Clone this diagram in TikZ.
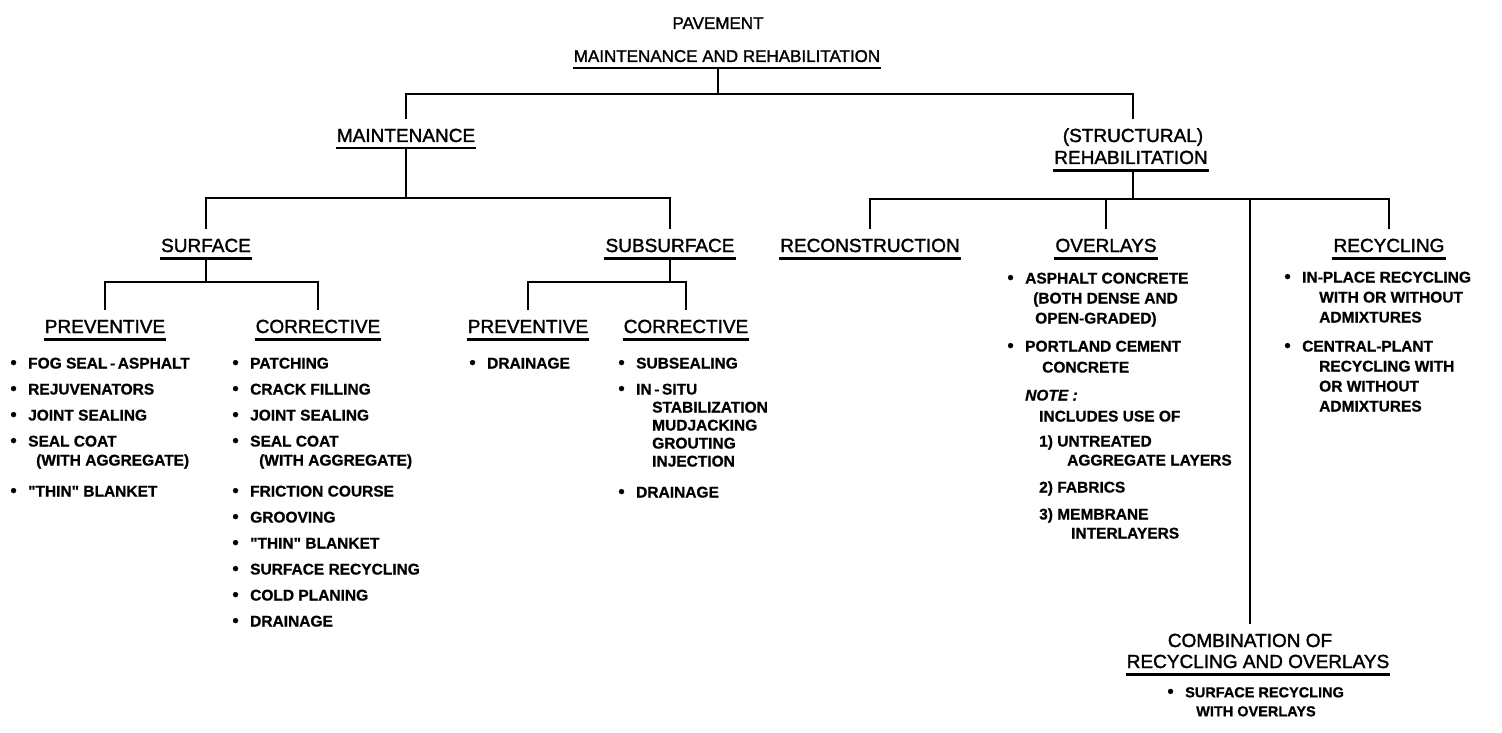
\documentclass[tikz,border=0pt]{standalone}
\usepackage{fontspec}
\setmainfont{Liberation Sans}
\newfontfamily\hdrfont{Liberation Sans}[FakeBold=1.6]
\newfontfamily\itmfont{Liberation Sans Bold}[FakeBold=0.8]
\newfontfamily\itmitfont{Liberation Sans Bold Italic}[FakeBold=0.8]
\newcommand{\bul}{\llap{{\fontsize{18}{19}\selectfont\textbullet}\hspace{11.5pt}}}
\newcommand{\ind}[1]{\hspace*{#1pt}}
\newcommand{\qd}{\textquotedbl}
\begin{document}
\begin{tikzpicture}[x=1pt,y=-1pt,
  hdr/.style={anchor=base, inner xsep=1pt, inner ysep=0pt, text height=24pt, text depth=6pt,
              font=\hdrfont\fontsize{19}{22}\selectfont},
  ttl/.style={hdr, font=\hdrfont\fontsize{17}{20}\selectfont},
  conn/.style={line width=2.8pt, line join=miter, line cap=rect},
  uline/.style={line width=2.6pt},
  lst/.style={anchor=north west, inner sep=0pt, align=left,
              font=\itmfont\fontsize{15.5}{19}\selectfont},
  lst20/.style={lst, font=\itmfont\fontsize{15.5}{20}\selectfont}]
\useasboundingbox (0,0) rectangle (1502,733);

% ---------- headings ----------
\node[ttl] (pav) at (718,29) {PAVEMENT};
\node[ttl] (mr) at (727,62) {MAINTENANCE AND REHABILITATION};
\node[hdr] (maint) at (406,142) {MAINTENANCE};
\node[hdr] (struct) at (1133,142) {(STRUCTURAL)};
\node[hdr] (rehab) at (1131,164) {REHABILITATION};
\node[hdr] (surf) at (206,252) {SURFACE};
\node[hdr] (subsurf) at (670,252) {SUBSURFACE};
\node[hdr] (recon) at (870,252) {RECONSTRUCTION};
\node[hdr] (overl) at (1106,252) {OVERLAYS};
\node[hdr] (recyc) at (1389,252) {RECYCLING};
\node[hdr] (prevS) at (105,333) {PREVENTIVE};
\node[hdr] (corrS) at (318,333) {CORRECTIVE};
\node[hdr] (prevSS) at (528,333) {PREVENTIVE};
\node[hdr] (corrSS) at (686,333) {CORRECTIVE};
\node[hdr] (comb1) at (1250,647) {COMBINATION OF};
\node[hdr] (comb2) at (1258,668) {RECYCLING AND OVERLAYS};

\foreach \n in {mr,maint,rehab,surf,subsurf,recon,overl,recyc,prevS,corrS,prevSS,corrSS,comb2}
  \draw[uline] (\n.south west) -- (\n.south east);

% ---------- connectors ----------
\coordinate (b0) at (718,94);
\coordinate (b1) at (406,198);
\coordinate (b2) at (1133,199);
\coordinate (b3) at (206,282);
\coordinate (b4) at (670,282);

\draw[conn] (b0) -- (b0 |- mr.south);
\draw[conn] (maint.north) |- (b0) -| (struct.north);

\draw[conn] (maint.south) -- (b1);
\draw[conn] (surf.north) |- (b1) -| (subsurf.north);

\draw[conn] (b2) -- (b2 |- rehab.south);
\draw[conn] (recon.north) |- (b2) -| (recyc.north);
\draw[conn] (overl.north) -- (overl.north |- b2);
\draw[conn] (comb1.north) -- (comb1.north |- b2);

\draw[conn] (surf.south) -- (b3);
\draw[conn] (prevS.north) |- (b3) -| (corrS.north);
\draw[conn] (subsurf.south) -- (b4);
\draw[conn] (prevSS.north) |- (b4) -| (corrSS.north);

% ---------- lists ----------
\node[lst] (lsp) at (28,357.5) {%
\bul FOG SEAL\,-\,ASPHALT\\[7pt]
\bul REJUVENATORS\\[7pt]
\bul JOINT SEALING\\[7pt]
\bul SEAL COAT\\
\ind{8}(WITH AGGREGATE)\\[12pt]
\bul \qd THIN\qd{} BLANKET};

\node[lst] (lsc) at (250,357.5) {%
\bul PATCHING\\[7pt]
\bul CRACK FILLING\\[7pt]
\bul JOINT SEALING\\[7pt]
\bul SEAL COAT\\
\ind{9}(WITH AGGREGATE)\\[12pt]
\bul FRICTION COURSE\\[7pt]
\bul GROOVING\\[7pt]
\bul \qd THIN\qd{} BLANKET\\[7pt]
\bul SURFACE RECYCLING\\[7pt]
\bul COLD PLANING\\[7pt]
\bul DRAINAGE};

\node[lst] (lssp) at (487,357.5) {\bul DRAINAGE};

\node[lst] (lssc) at (636,357.5) {%
\bul SUBSEALING\\[7pt]
\bul IN\,-\,SITU\\[-1pt]
\ind{16}STABILIZATION\\[-1pt]
\ind{16}MUDJACKING\\[-1pt]
\ind{16}GROUTING\\[-1pt]
\ind{16}INJECTION\\[12pt]
\bul DRAINAGE};

\node[lst20] (lov) at (1025,272.5) {%
\bul ASPHALT CONCRETE\\
\ind{8}(BOTH DENSE AND\\
\ind{10}OPEN-GRADED)\\[8pt]
\bul PORTLAND CEMENT\\[1pt]
\ind{17}CONCRETE\\[8pt]
{\itmitfont NOTE :}\\[1pt]
\ind{14}INCLUDES USE OF\\[5pt]
\ind{14}1) UNTREATED\\[-1pt]
\ind{42}AGGREGATE LAYERS\\[7pt]
\ind{14}2) FABRICS\\[7pt]
\ind{14}3) MEMBRANE\\[-1pt]
\ind{46}INTERLAYERS};

\node[lst20] (lrc) at (1302,271.5) {%
\bul IN-PLACE RECYCLING\\
\ind{17}WITH OR WITHOUT\\
\ind{17}ADMIXTURES\\[9pt]
\bul CENTRAL-PLANT\\
\ind{17}RECYCLING WITH\\
\ind{17}OR WITHOUT\\
\ind{17}ADMIXTURES};

\node[lst, font=\itmfont\fontsize{14.5}{19}\selectfont] (lcb) at (1185,687) {%
\bul SURFACE RECYCLING\\
\ind{11}WITH OVERLAYS};
\end{tikzpicture}
\end{document}
